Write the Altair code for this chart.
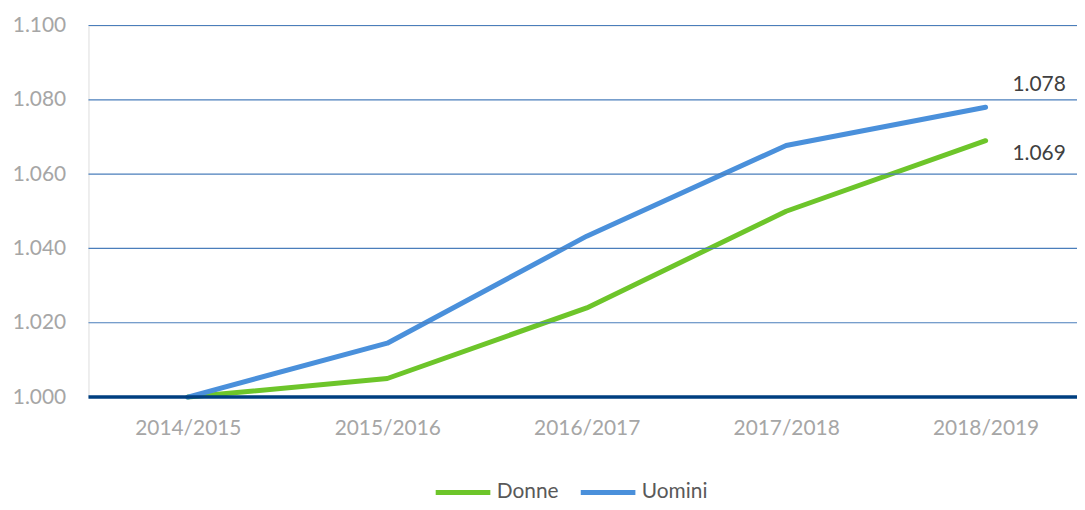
import altair as alt
import pandas as pd

years = ["2014/2015", "2015/2016", "2016/2017", "2017/2018", "2018/2019"]
donne = [1.000, 1.005, 1.024, 1.050, 1.069]
uomini = [1.000, 1.0145, 1.0433, 1.0677, 1.078]
series_names = ["Donne", "Uomini"]
colors = ["#6DC52A", "#4A90DB"]
grid_values = [1.02, 1.04, 1.06, 1.08, 1.1]

rows = []
for name, vals in zip(series_names, [donne, uomini]):
    for y, v in zip(years, vals):
        rows.append({"anno": y, "valore": v, "serie": name})
df = pd.DataFrame(rows)
last = df[df["anno"] == years[-1]].copy()
last["label"] = last["valore"].map(lambda v: f"{v:.3f}")

FONT = "Lato"
FS = 21
W, H = 995, 374
yscale = alt.Scale(domain=[1.0, 1.1], nice=False, zero=False)
xscale = alt.Scale(type="point", padding=0, range=[100, 903])

x = alt.X("anno:N", sort=years, title=None, scale=xscale,
          axis=alt.Axis(labelAngle=0, labelColor="#A6A6A6", labelFontSize=FS,
                        labelFont=FONT, ticks=False, domain=False, grid=False,
                        labelPadding=21))
y = alt.Y("valore:Q", title=None, scale=yscale,
          axis=alt.Axis(values=[1.0, 1.02, 1.04, 1.06, 1.08, 1.1], format=".3f",
                        labelColor="#A6A6A6", labelFontSize=FS, labelFont=FONT,
                        ticks=False, domain=False, grid=False, labelPadding=23))

color = alt.Color("serie:N", scale=alt.Scale(domain=series_names, range=colors),
                  legend=alt.Legend(title=None, orient="none", direction="horizontal",
                                    legendX=347, legendY=440, padding=0,
                                    symbolType="stroke", symbolSize=3025,
                                    symbolStrokeWidth=5, labelFontSize=FS,
                                    labelFont=FONT, labelColor="#595959",
                                    labelOffset=4, columnPadding=11))

grid = alt.Chart(pd.DataFrame({"g": grid_values})).mark_rule(
    color="#4A7EBB", strokeWidth=1.2).encode(
    y=alt.Y("g:Q", scale=yscale), x=alt.value(0), x2=alt.value(W))

lines = alt.Chart(df).mark_line(strokeWidth=5, strokeCap="round",
                                strokeJoin="round").encode(x=x, y=y, color=color)

baseline = alt.Chart(pd.DataFrame({"v": [1.0]})).mark_rule(
    color="#003F80", strokeWidth=3.5).encode(
    y=alt.Y("v:Q", scale=yscale), x=alt.value(0), x2=alt.value(W))

lab_u = alt.Chart(last[last["serie"] == "Uomini"]).mark_text(
    align="left", baseline="middle", dx=27, dy=-22, fontSize=FS, font=FONT,
    color="#404040").encode(x=alt.X("anno:N", sort=years, scale=xscale),
                            y=alt.Y("valore:Q", scale=yscale),
                            text="label:N")
lab_d = alt.Chart(last[last["serie"] == "Donne"]).mark_text(
    align="left", baseline="middle", dx=27, dy=13, fontSize=FS, font=FONT,
    color="#404040").encode(x=alt.X("anno:N", sort=years, scale=xscale),
                            y=alt.Y("valore:Q", scale=yscale),
                            text="label:N")

chart = alt.layer(lines, grid, baseline, lab_u, lab_d).properties(
    width=W, height=H,
    autosize=alt.AutoSizeParams(type="none"),
    padding={"left": 81, "top": 16, "right": 0, "bottom": 103}
).configure_view(strokeWidth=0, strokeOpacity=0
).configure_axis(domain=False, ticks=False, grid=False
).configure(background="white")

chart.save("out.html", embed_options={"renderer": "svg", "actions": False})
